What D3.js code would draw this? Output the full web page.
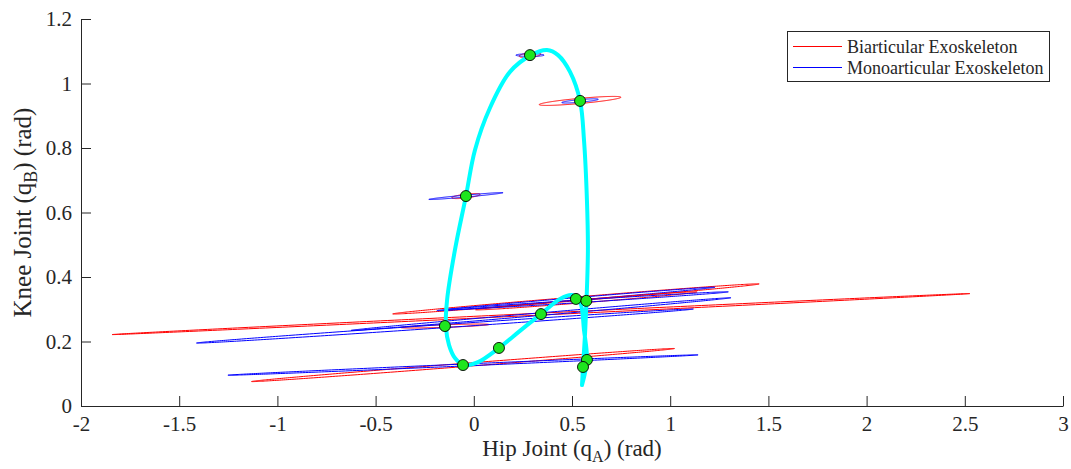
<!DOCTYPE html>
<html>
<head>
<meta charset="utf-8">
<script src="https://cdn.jsdelivr.net/npm/d3@7"></script>
<style>
  html, body { margin: 0; padding: 0; background: #fff; }
  svg { display: block; }
  text { font-family: "Liberation Serif", "Times New Roman", serif; fill: #262626; }
</style>
</head>
<body>
<svg id="chart" width="1071" height="469"></svg>
<script>
// ---- data ----
const xTicks = [-2, -1.5, -1, -0.5, 0, 0.5, 1, 1.5, 2, 2.5, 3];
const yTicks = [0, 0.2, 0.4, 0.6, 0.8, 1, 1.2];

// evaluated configurations (green markers)
const pointX = [0.286, 0.541, -0.040, -0.147, -0.055, 0.128, 0.342, 0.520, 0.573, 0.576, 0.556];
const pointY = [1.088, 0.946, 0.651, 0.248, 0.127, 0.180, 0.285, 0.332, 0.326, 0.143, 0.121];

// biarticular (red) ellipses: half length in q_A, slope, half thickness in q_B
const biHalfLen = [0.055, 0.208, 0.072, 0.224, 1.077, 0.020, 2.184, 0.933, 0.564, 0.020, 0.020];
const biSlope   = [0.056, 0.055, 0.072, 0.021, 0.0475, 0.03, 0.0291, 0.0498, 0.049, 0.03, 0.03];
const biHalfW   = [0.007, 0.008, 0.006, 0.004, 0.005, 0.003, 0.003, 0.006, 0.005, 0.003, 0.003];

// monoarticular (blue) ellipses
const monoHalfLen = [0.072, 0.093, 0.189, 1.265, 1.197, 0.015, 0.967, 0.708, 0.723, 0.015, 0.015];
const monoSlope   = [0.0, 0.055, 0.055, 0.0417, 0.0263, 0.03, 0.0523, 0.0512, 0.0386, 0.03, 0.03];
const monoHalfW   = [0.004, 0.004, 0.003, 0.005, 0.003, 0.002, 0.004, 0.004, 0.004, 0.002, 0.002];

// joint trajectory (cyan)
const trajX = [0.551, 0.556, 0.566, 0.574, 0.581, 0.576, 0.561, 0.541, 0.490, 0.429, 0.373, 0.291, 0.184, 0.082, 0.006, -0.040, -0.096, -0.136, -0.142, -0.126, -0.096, -0.050, 0.021, 0.128, 0.235, 0.342, 0.439, 0.501, 0.541, 0.561, 0.576, 0.551];
const trajY = [0.065, 0.121, 0.220, 0.329, 0.484, 0.639, 0.825, 0.946, 1.036, 1.088, 1.104, 1.088, 1.036, 0.924, 0.794, 0.651, 0.484, 0.329, 0.245, 0.189, 0.149, 0.127, 0.136, 0.180, 0.233, 0.285, 0.332, 0.344, 0.322, 0.236, 0.143, 0.065];

const legendLabels = ["Biarticular Exoskeleton", "Monoarticular Exoskeleton"];
const legendColors = ["#ff0000", "#0000ff"];

// ---- layout ----
const svg = d3.select("#chart");
const mLeft = 81, mRight = 1063, mTop = 19, mBottom = 406;
const x = d3.scaleLinear().domain([-2, 3]).range([mLeft, mRight]);
const y = d3.scaleLinear().domain([0, 1.2]).range([mBottom, mTop]);
const axisColor = "#262626";
const serif = "'Liberation Serif', 'Times New Roman', serif";

const plot = svg.append("g");

function ellipsePath(cx, cy, a, s, b) {
  const ts = d3.range(0, 360, 1).map(d => d * Math.PI / 180);
  return d3.line()
    .x(t => x(cx + a * Math.cos(t)))
    .y(t => y(cy + s * a * Math.cos(t) + b * Math.sin(t)))
    .curve(d3.curveLinearClosed)(ts);
}

pointX.forEach((px, i) => {
  plot.append("path")
    .attr("d", ellipsePath(px, pointY[i], biHalfLen[i], biSlope[i], biHalfW[i]))
    .attr("fill", "none").attr("stroke", legendColors[0]).attr("stroke-width", 1);
  plot.append("path")
    .attr("d", ellipsePath(px, pointY[i], monoHalfLen[i], monoSlope[i], monoHalfW[i]))
    .attr("fill", "none").attr("stroke", legendColors[1]).attr("stroke-width", 1);
});

// trajectory
const traj = trajX.map((v, i) => [v, trajY[i]]);
plot.append("path")
  .attr("d", d3.line().x(d => x(d[0])).y(d => y(d[1])).curve(d3.curveCatmullRom.alpha(0.5))(traj))
  .attr("fill", "none").attr("stroke", "#00ffff").attr("stroke-width", 4)
  .attr("stroke-linecap", "round").attr("stroke-linejoin", "round");

// markers
pointX.forEach((px, i) => {
  plot.append("circle")
    .attr("cx", x(px)).attr("cy", y(pointY[i])).attr("r", 5.5)
    .attr("fill", "#1ee61e").attr("stroke", "#000").attr("stroke-width", 0.9);
});

// ---- axes (ticks inward, no box) ----
const fmt = d => String(d);
const xAxis = svg.append("g").attr("transform", `translate(0,${mBottom})`)
  .call(d3.axisBottom(x).tickValues(xTicks).tickFormat(fmt).tickSizeInner(-10).tickSizeOuter(0).tickPadding(10));
const yAxis = svg.append("g").attr("transform", `translate(${mLeft},0)`)
  .call(d3.axisLeft(y).tickValues(yTicks).tickFormat(fmt).tickSizeInner(-10).tickSizeOuter(0).tickPadding(9));
[xAxis, yAxis].forEach(g => {
  g.attr("font-family", serif);
  g.select(".domain").attr("stroke", axisColor).attr("stroke-width", 1);
  g.selectAll(".tick line").attr("stroke", axisColor).attr("stroke-width", 1);
  g.selectAll(".tick text").attr("font-size", 21).style("font-family", serif).attr("fill", axisColor);
});

// axis labels
const xl = svg.append("text").attr("x", (mLeft + mRight) / 2).attr("y", 456)
  .attr("text-anchor", "middle").attr("font-size", 23).style("font-family", serif);
xl.append("tspan").text("Hip Joint (q");
xl.append("tspan").attr("font-size", 16).attr("dy", 6).text("A");
xl.append("tspan").attr("dy", -6).text(") (rad)");

const yl = svg.append("text")
  .attr("transform", `translate(31,${(mTop + mBottom) / 2}) rotate(-90)`)
  .attr("text-anchor", "middle").attr("font-size", 25).style("font-family", serif);
yl.append("tspan").text("Knee Joint (q");
yl.append("tspan").attr("font-size", 18).attr("dy", 6).text("B");
yl.append("tspan").attr("dy", -6).text(") (rad)");

// legend
const lg = svg.append("g");
lg.append("rect").attr("x", 787.5).attr("y", 31.5).attr("width", 262).attr("height", 50)
  .attr("fill", "#fff").attr("stroke", axisColor).attr("stroke-width", 1);
legendLabels.forEach((lab, i) => {
  const yy = 46.5 + i * 21;
  lg.append("line").attr("x1", 793).attr("x2", 842).attr("y1", yy).attr("y2", yy)
    .attr("stroke", legendColors[i]).attr("stroke-width", 1);
  lg.append("text").attr("x", 847).attr("y", yy + 6).attr("font-size", 18).style("font-family", serif).text(lab);
});
</script>
</body>
</html>
